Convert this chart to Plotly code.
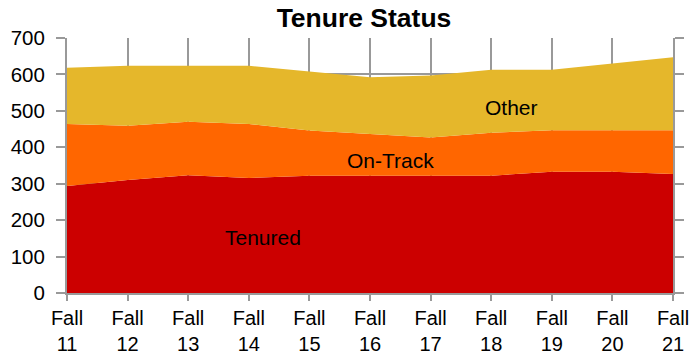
import plotly.graph_objects as go

# Faculty headcount by tenure status, Fall 2011 - Fall 2021
terms = ["Fall<br>11", "Fall<br>12", "Fall<br>13", "Fall<br>14", "Fall<br>15", "Fall<br>16",
         "Fall<br>17", "Fall<br>18", "Fall<br>19", "Fall<br>20", "Fall<br>21"]
tenured = [294, 310, 323, 316, 322, 322, 322, 322, 333, 333, 327]
on_track = [170, 149, 147, 148, 124, 114, 105, 118, 114, 114, 120]
other = [154, 165, 154, 160, 162, 156, 170, 173, 166, 182, 200]

series = [
    ("Tenured", tenured, "#CC0000"),
    ("On-Track", on_track, "#FF6600"),
    ("Other", other, "#E5B72B"),
]

x = list(range(len(terms)))
fig = go.Figure()
for name, vals, color in series:
    fig.add_trace(go.Scatter(
        x=x, y=vals, name=name, mode="lines", stackgroup="one",
        line=dict(width=0, color=color), fillcolor=color,
        hoverinfo="x+y+name",
    ))

# In-chart series labels
labels = [("Tenured", 3.23, 153), ("On-Track", 5.33, 365), ("Other", 7.33, 508)]
for text, lx, ly in labels:
    fig.add_annotation(x=lx, y=ly, text=text, showarrow=False,
                       font=dict(family="Liberation Sans, Arial", size=21, color="#000000"))

grid = "#999999"
fig.update_layout(
    width=694, height=356,
    margin=dict(l=67, r=21, t=38, b=63, autoexpand=False),
    paper_bgcolor="white", plot_bgcolor="white",
    showlegend=False,
    font=dict(family="Liberation Sans, Arial", size=20, color="#000000"),
    title=dict(text="<b>Tenure Status</b>", x=364 / 694, xanchor="center",
               y=1 - 18 / 356, yanchor="middle", yref="container",
               font=dict(size=26.5, color="#000000")),
    xaxis=dict(
        range=[0, 10], tickmode="array", tickvals=x, ticktext=terms,
        showgrid=True, gridcolor=grid, gridwidth=2,
        showline=True, linecolor=grid, linewidth=2,
        ticks="outside", ticklen=6, tickwidth=2, tickcolor=grid,
        zeroline=False, fixedrange=True, automargin=False,
        tickfont=dict(size=20), ticklabelstandoff=0,
    ),
    yaxis=dict(
        range=[0, 700], dtick=100,
        showgrid=True, gridcolor=grid, gridwidth=2,
        showline=True, linecolor=grid, linewidth=2, mirror="ticks",
        ticks="outside", ticklen=9, tickwidth=2, tickcolor=grid,
        zeroline=False, fixedrange=True, automargin=False,
        tickfont=dict(size=20.5), ticklabelstandoff=7,
    ),
)

fig.write_html("out.html")
